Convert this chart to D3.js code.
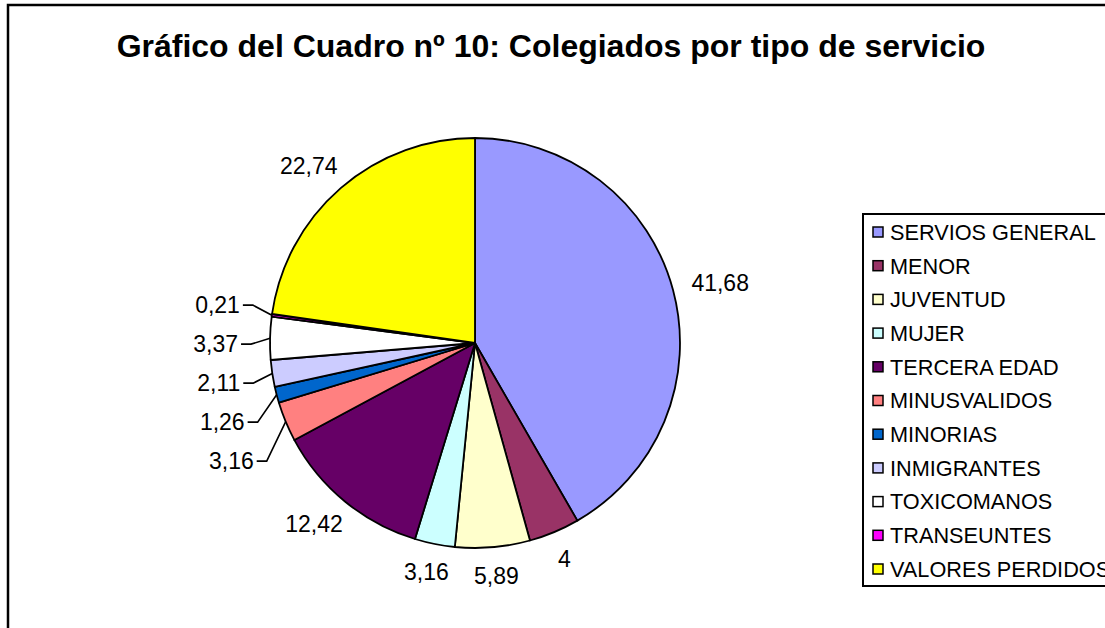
<!DOCTYPE html>
<html>
<head>
<meta charset="utf-8">
<script src="https://cdn.jsdelivr.net/npm/d3@7"></script>
<style>
  body { margin: 0; background: #fff; }
  svg { display: block; font-family: "Liberation Sans", Arial, sans-serif; }
</style>
</head>
<body>
<svg id="chart" width="1105" height="628"></svg>
<script>
var title = "Gráfico del Cuadro nº 10: Colegiados por tipo de servicio";
var categories = ["SERVIOS GENERAL", "MENOR", "JUVENTUD", "MUJER", "TERCERA EDAD",
  "MINUSVALIDOS", "MINORIAS", "INMIGRANTES", "TOXICOMANOS", "TRANSEUNTES", "VALORES PERDIDOS"];
var values = [41.68, 4, 5.89, 3.16, 12.42, 3.16, 1.26, 2.11, 3.37, 0.21, 22.74];
var colors = ["#9999FF", "#993366", "#FFFFCC", "#CCFFFF", "#660066",
  "#FF8080", "#0066CC", "#CCCCFF", "#FFFFFF", "#FF00FF", "#FFFF00"];

var svg = d3.select("#chart");
var cx = 475, cy = 343, r = 205;

// outer frame (runs off the right and bottom edges)
svg.append("rect")
  .attr("x", 8).attr("y", 5)
  .attr("width", 1200).attr("height", 700)
  .attr("fill", "none").attr("stroke", "#000").attr("stroke-width", 2.5);

svg.append("text")
  .attr("x", 551).attr("y", 57)
  .attr("text-anchor", "middle")
  .attr("font-weight", "bold")
  .attr("font-size", 32)
  .text(title);

var fmt = function (v) { return String(v).replace(".", ","); };
var data = values.map(function (v, i) { return { name: categories[i], value: v, color: colors[i] }; });

var pie = d3.pie().sort(null).value(function (d) { return d.value; });
var arc = d3.arc().innerRadius(0).outerRadius(r);
var arcs = pie(data);

var g = svg.append("g").attr("transform", "translate(" + cx + "," + cy + ")");
g.selectAll("path").data(arcs).enter().append("path")
  .attr("d", arc)
  .attr("fill", function (d) { return d.data.color; })
  .attr("stroke", "#000")
  .attr("stroke-width", 1.8)
  .attr("stroke-linejoin", "round");

// labels: first natural spot just outside the pie
var gap = 20, lh = 18;
var labels = arcs.map(function (d) {
  var a = (d.startAngle + d.endAngle) / 2;
  var s = Math.sin(a), c = -Math.cos(a);
  var t = g.append("text")
    .attr("font-size", 23)
    .attr("text-anchor", "middle")
    .attr("dy", "0.35em")
    .text(fmt(d.data.value));
  var w = t.node().getComputedTextLength();
  var x = (r + gap) * s + w / 2 * s;
  var y = (r + gap) * c + lh / 2 * c;
  return { node: t, a: a, s: s, c: c, w: w, x: x, y: y, y0: y, ex: r * s, ey: r * c };
});

// push apart labels that collide on the left side (lower one gives way more)
var left = labels.filter(function (l) { return l.s < 0; })
  .sort(function (p, q) { return p.y - q.y; });
var minDy = 39;
for (var it = 0; it < 400; it++) {
  for (var i = 0; i < left.length - 1; i++) {
    var p = left[i], q = left[i + 1];
    var overlapX = Math.abs(p.x - q.x) < (p.w + q.w) / 2;
    var dy = q.y - p.y;
    if (overlapX && dy < minDy) {
      p.y -= (minDy - dy) * 0.3;
      q.y += (minDy - dy) * 0.7;
    }
  }
}

labels.forEach(function (l) {
  if (Math.abs(l.y - l.y0) > 3) {
    // moved label: right-aligned with a leader line back to the slice
    var xe = l.ex - 32;
    l.node.attr("text-anchor", "end").attr("x", xe).attr("y", l.y);
    g.append("polyline")
      .attr("points", [[xe + 3, l.y], [xe + 13, l.y], [l.ex, l.ey]].join(" "))
      .attr("fill", "none").attr("stroke", "#000").attr("stroke-width", 1.6);
  } else {
    l.node.attr("x", l.x).attr("y", l.y);
  }
});

// legend
var lx = 863, ly = 214, rowH = 33.7;
svg.append("rect")
  .attr("x", lx).attr("y", ly)
  .attr("width", 300).attr("height", 372)
  .attr("fill", "#fff").attr("stroke", "#000").attr("stroke-width", 2);

var item = svg.selectAll("g.legend").data(data).enter().append("g")
  .attr("class", "legend")
  .attr("transform", function (d, i) { return "translate(" + (lx + 10) + "," + (ly + 18 + i * rowH) + ")"; });
item.append("rect")
  .attr("x", 0).attr("y", -5).attr("width", 10).attr("height", 10)
  .attr("fill", function (d) { return d.color; })
  .attr("stroke", "#000").attr("stroke-width", 1.5);
item.append("text")
  .attr("x", 17).attr("dy", "0.36em")
  .attr("font-size", 21.7)
  .text(function (d) { return d.name; });
</script>
</body>
</html>
